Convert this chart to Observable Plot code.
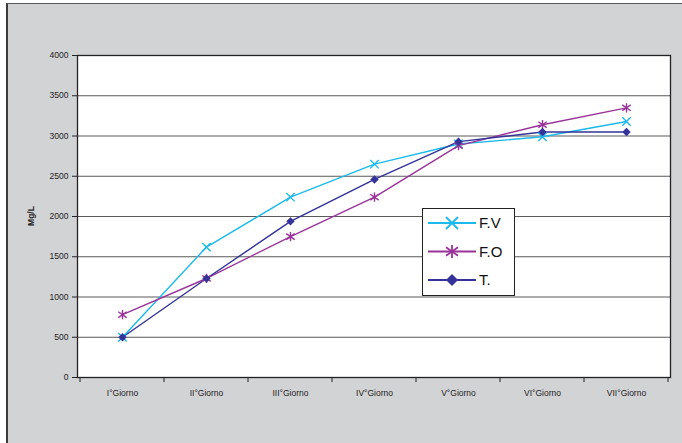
<!DOCTYPE html>
<html>
<head>
<meta charset="utf-8">
<script src="https://cdn.jsdelivr.net/npm/d3@7"></script>
<script src="https://cdn.jsdelivr.net/npm/@observablehq/plot@0.6"></script>
<style>
  html, body { margin: 0; padding: 0; background: #ffffff; }
  #wrap { position: relative; width: 682px; height: 443px; overflow: hidden; font-family: "Liberation Sans", Arial, sans-serif; }
  #panel { position: absolute; left: 6px; top: 3px; right: -4px; bottom: -4px; background: #d2d3d5; border-left: 2px solid #3c3c3c; border-top: 1px solid #5a5a5a; }
  #chart { position: absolute; left: 0; top: 0; }
  #ylabel { position: absolute; left: 31px; top: 216px; transform: translate(-50%, -50%) rotate(-90deg); font: bold 8.5px "Liberation Sans", Arial, sans-serif; color: #222; white-space: nowrap; }
  #legend { position: absolute; left: 422px; top: 208px; width: 91px; height: 86px; background: #fff; border: 1px solid #222; }
</style>
</head>
<body>
<div id="wrap">
  <div id="panel"></div>
  <div id="chart"></div>
  <div id="ylabel">Mg/L</div>
  <div id="legend"></div>
</div>
<script>
// Days of the trial and the concentration (Mg/L) measured for each treatment
const days = ["I°Giorno", "II°Giorno", "III°Giorno", "IV°Giorno", "V°Giorno", "VI°Giorno", "VII°Giorno"];
const seriesNames = ["F.V", "F.O", "T."];
const fv = [500, 1620, 2240, 2650, 2900, 2990, 3180];
const fo = [780, 1230, 1750, 2240, 2880, 3140, 3350];
const t  = [500, 1230, 1940, 2460, 2930, 3050, 3050];
const yTicks = [0, 500, 1000, 1500, 2000, 2500, 3000, 3500, 4000];

const colors = {"F.V": "#1cb9ec", "F.O": "#993399", "T.": "#333399"};

// Marker shapes: a saltire cross, a six-armed asterisk and a square diamond
const crossSym = {
  draw(ctx, size) {
    const r = Math.sqrt(size / Math.PI);
    ctx.moveTo(-r, -r); ctx.lineTo(r, r);
    ctx.moveTo(-r, r); ctx.lineTo(r, -r);
  }
};
const starSym = {
  draw(ctx, size) {
    const r = Math.sqrt(size / Math.PI);
    ctx.moveTo(-r, -r * 0.7); ctx.lineTo(r, r * 0.7);
    ctx.moveTo(-r, r * 0.7); ctx.lineTo(r, -r * 0.7);
    ctx.moveTo(0, -r * 1.1); ctx.lineTo(0, r * 1.1);
  }
};
const diamondSym = {
  draw(ctx, size) {
    const r = Math.sqrt(size / Math.PI);
    ctx.moveTo(0, -r); ctx.lineTo(r, 0); ctx.lineTo(0, r); ctx.lineTo(-r, 0); ctx.closePath();
  }
};
const symbols = {"F.V": crossSym, "F.O": starSym, "T.": diamondSym};

const rows = [];
[fv, fo, t].forEach((vals, s) => {
  vals.forEach((v, i) => rows.push({series: seriesNames[s], day: days[i], value: v}));
});
const bySeries = name => rows.filter(d => d.series === name);

// Category boundary ticks below the x axis
function bandEdgeTicks(index, scales) {
  const x = scales.x, y = scales.y;
  const edges = days.map(d => x(d)).concat([x(days[days.length - 1]) + x.bandwidth()]);
  const y0 = y(0);
  const g = d3.create("svg:g").attr("stroke", "#222").attr("stroke-width", 1);
  edges.forEach(e => g.append("line")
    .attr("x1", e).attr("x2", e).attr("y1", y0).attr("y2", y0 + 5));
  return g.node();
}

const chart = Plot.plot({
  width: 682,
  height: 443,
  marginLeft: 77,
  marginRight: 12,
  marginTop: 55,
  marginBottom: 66,
  style: {background: "transparent", fontFamily: "'Liberation Sans', Arial, sans-serif", color: "#222", overflow: "visible"},
  x: {type: "band", domain: days, padding: 0, label: null},
  y: {domain: [0, 4000], label: null},
  marks: [
    Plot.frame({fill: "#ffffff", stroke: "none"}),
    Plot.ruleY(yTicks.slice(1, -1), {stroke: "#5a5a5a", strokeWidth: 1}),
    Plot.frame({stroke: "#222", strokeWidth: 1.3}),
    Plot.axisY({ticks: yTicks, tickFormat: d => String(d), tickSize: 5, tickPadding: 4, fontSize: 8.5, label: null}),
    Plot.axisX({tickSize: 0, tickPadding: 12, fontSize: 8.5, label: null}),
    bandEdgeTicks,
    ...seriesNames.map(name => Plot.line(bySeries(name), {
      x: "day", y: "value", stroke: colors[name], strokeWidth: 1.4
    })),
    ...seriesNames.map(name => Plot.dot(bySeries(name), {
      x: "day", y: "value", symbol: symbols[name],
      r: 4.2,
      stroke: colors[name], strokeWidth: name === "T." ? 0 : 1.4,
      fill: name === "T." ? colors[name] : "none"
    }))
  ]
});
document.getElementById("chart").appendChild(chart);

// Legend: line swatch with its marker, then the series name
const leg = d3.select("#legend").append("svg").attr("width", 91).attr("height", 86);
seriesNames.forEach((name, i) => {
  const cy = 14 + i * 28.5;
  const g = leg.append("g").attr("transform", `translate(0,${cy})`);
  g.append("line").attr("x1", 5).attr("x2", 53).attr("y1", 0).attr("y2", 0)
    .attr("stroke", colors[name]).attr("stroke-width", 2);
  g.append("path")
    .attr("transform", "translate(29,0)")
    .attr("d", d3.symbol(symbols[name], Math.PI * 36)())
    .attr("stroke", name === "T." ? "none" : colors[name])
    .attr("stroke-width", 1.8)
    .attr("fill", name === "T." ? colors[name] : "none");
  g.append("text").attr("x", 56).attr("y", 0).attr("dy", "0.36em")
    .attr("font-family", "'Liberation Sans', Arial, sans-serif")
    .attr("font-size", 15).attr("fill", "#111").text(name);
});
</script>
</body>
</html>
